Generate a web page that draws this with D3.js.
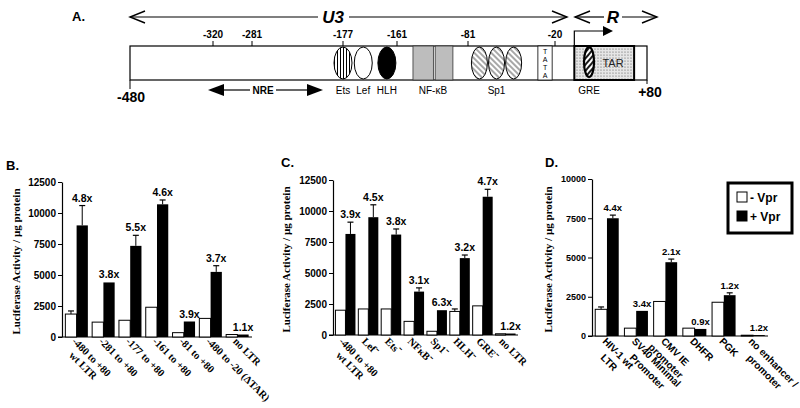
<!DOCTYPE html>
<html>
<head>
<meta charset="utf-8">
<script src="https://cdn.jsdelivr.net/npm/d3@7"></script>
<style>
  body { margin: 0; background: #fff; }
  svg { display: block; }
  .sans { font-family: Arial, "Liberation Sans", Helvetica, sans-serif; }
  .serif { font-family: "Times New Roman", "Liberation Serif", serif; }
</style>
</head>
<body>
<svg id="chart" width="800" height="408"></svg>
<script>
// Panel A – schematic of the LTR (positions in nt)
const ltrTicks = [-320, -281, -177, -161, -81, -20];
const ltrSites = [
  { name: "Ets", pos: -177, kind: "ets" },
  { name: "Lef", pos: -171, kind: "lef" },
  { name: "HLH", pos: -164, kind: "hlh" }
];
const nfkbBoxes = [[-143, -120], [-118, -98]];
const sp1Sites = [-73, -61, -49];
const tataBox = [-32, -22];
const tarRegion = [1, 66];
const grePos = 17;

// Panel B – deletion mutants
const bCats  = ["-480 to +80|wt LTR", "-281 to +80", "-177 to +80", "-161 to +80", "-81 to +80", "-480 to -20 (\u0394TAR)", "no LTR"];
const bMinus = [1850, 1200, 1350, 2400, 350, 1500, 200];
const bMinusErr = [250, 0, 0, 0, 0, 0, 0];
const bPlus  = [9000, 4400, 7350, 10700, 1250, 5250, 200];
const bPlusErr = [1600, 0, 850, 350, 0, 500, 0];
const bFold  = ["4.8x", "3.8x", "5.5x", "4.6x", "3.9x", "3.7x", "1.1x"];

// Panel C – site mutants
const cCats  = ["-480 to +80|wt LTR", "Lef\u207B", "Ets\u207B", "NF\u03BAB\u207B", "Sp1\u207B", "HLH\u207B", "GRE\u207B", "no LTR"];
const cMinus = [2000, 2100, 2100, 1100, 300, 1900, 2350, 100];
const cMinusErr = [0, 0, 0, 0, 0, 200, 0, 0];
const cPlus  = [8150, 9500, 8100, 3500, 2000, 6200, 11150, 120];
const cPlusErr = [950, 1000, 450, 300, 0, 250, 600, 0];
const cFold  = ["3.9x", "4.5x", "3.8x", "3.1x", "6.3x", "3.2x", "4.7x", "1.2x"];

// Panel D – heterologous promoters
const dCats  = ["HIV-1 wt|LTR", "SV40 Minimal|Promoter", "CMV IE|promoter", "DHFR", "PGK", "no enhancer /|promoter"];
const dMinus = [1700, 500, 2200, 500, 2150, 50];
const dMinusErr = [150, 0, 0, 0, 0, 0];
const dPlus  = [7500, 1600, 4700, 450, 2600, 60];
const dPlusErr = [200, 0, 200, 0, 150, 0];
const dFold  = ["4.4x", "3.4x", "2.1x", "0.9x", "1.2x", "1.2x"];

const ticksBC = [0, 2500, 5000, 7500, 10000, 12500];
const ticksD  = [0, 2500, 5000, 7500, 10000];
const series = ["- Vpr", "+ Vpr"];

const svg = d3.select("#chart");
const defs = svg.append("defs");

// fill patterns
const pv = defs.append("pattern").attr("id", "vstripe").attr("patternUnits", "userSpaceOnUse")
  .attr("width", 3).attr("height", 3);
pv.append("rect").attr("width", 3).attr("height", 3).attr("fill", "#fff");
pv.append("line").attr("x1", 1.5).attr("x2", 1.5).attr("y1", 0).attr("y2", 3).attr("stroke", "#000").attr("stroke-width", 1);

const ph = defs.append("pattern").attr("id", "hatch").attr("patternUnits", "userSpaceOnUse")
  .attr("width", 4).attr("height", 4).attr("patternTransform", "rotate(45)");
ph.append("rect").attr("width", 4).attr("height", 4).attr("fill", "#fff");
ph.append("line").attr("x1", 0).attr("x2", 4).attr("y1", 2).attr("y2", 2).attr("stroke", "#222").attr("stroke-width", 0.8);

const pg = defs.append("pattern").attr("id", "hatchBold").attr("patternUnits", "userSpaceOnUse")
  .attr("width", 4).attr("height", 4).attr("patternTransform", "rotate(-50)");
pg.append("rect").attr("width", 4).attr("height", 4).attr("fill", "#fff");
pg.append("line").attr("x1", 0).attr("x2", 4).attr("y1", 2).attr("y2", 2).attr("stroke", "#000").attr("stroke-width", 1.8);

const pd = defs.append("pattern").attr("id", "stipple").attr("patternUnits", "userSpaceOnUse")
  .attr("width", 3).attr("height", 3);
pd.append("rect").attr("width", 3).attr("height", 3).attr("fill", "#e6e6e6");
pd.append("circle").attr("cx", 1).attr("cy", 1).attr("r", 0.6).attr("fill", "#555");

// ---------- Panel A ----------
const a = svg.append("g").attr("class", "sans");
const xs = d3.scaleLinear()
  .domain([-480, -320, -281, -177, -161, -81, -20, 80])
  .range([130, 213, 252, 343, 397, 468, 555, 647]);
const boxTop = 46, boxBot = 80, boxMid = (boxTop + boxBot) / 2;

a.append("text").attr("x", 72).attr("y", 21).attr("font-weight", "bold").attr("font-size", 13).text("A.");

function openHead(g, x, y, dir) {
  g.append("path")
    .attr("d", `M${x + dir * 15},${y - 6} L${x},${y} L${x + dir * 15},${y + 6}`)
    .attr("fill", "none").attr("stroke", "#000").attr("stroke-width", 1.4);
}
// U3 arrow
a.append("line").attr("x1", xs(-480)).attr("x2", 318).attr("y1", 17).attr("y2", 17).attr("stroke", "#000").attr("stroke-width", 1.2);
a.append("line").attr("x1", 349).attr("x2", 567).attr("y1", 17).attr("y2", 17).attr("stroke", "#000").attr("stroke-width", 1.2);
openHead(a, xs(-480), 17, 1);
openHead(a, 567, 17, -1);
a.append("text").attr("x", 333).attr("y", 23).attr("text-anchor", "middle")
  .attr("font-weight", "bold").attr("font-style", "italic").attr("font-size", 17).text("U3");
// R arrow
a.append("line").attr("x1", 575).attr("x2", 604).attr("y1", 17).attr("y2", 17).attr("stroke", "#000").attr("stroke-width", 1.2);
a.append("line").attr("x1", 622).attr("x2", 657).attr("y1", 17).attr("y2", 17).attr("stroke", "#000").attr("stroke-width", 1.2);
openHead(a, 575, 17, 1);
openHead(a, 657, 17, -1);
a.append("text").attr("x", 613).attr("y", 23).attr("text-anchor", "middle")
  .attr("font-weight", "bold").attr("font-style", "italic").attr("font-size", 17).text("R");

// main box
a.append("rect").attr("x", xs(-480)).attr("y", boxTop).attr("width", xs(80) - xs(-480)).attr("height", boxBot - boxTop)
  .attr("fill", "#fff").attr("stroke", "#000").attr("stroke-width", 1.2);

// top ticks
a.selectAll(".ltick").data(ltrTicks).join("line")
  .attr("x1", d => xs(d)).attr("x2", d => xs(d)).attr("y1", 41).attr("y2", boxTop)
  .attr("stroke", "#000");
a.selectAll(".ltxt").data(ltrTicks).join("text")
  .attr("x", d => xs(d)).attr("y", 38).attr("text-anchor", "middle")
  .attr("font-weight", "bold").attr("font-size", 10).text(d => d);

// end labels
a.append("line").attr("x1", xs(-480)).attr("x2", xs(-480)).attr("y1", boxBot).attr("y2", 89).attr("stroke", "#000");
a.append("line").attr("x1", xs(80)).attr("x2", xs(80)).attr("y1", boxBot).attr("y2", 84).attr("stroke", "#000");
a.append("text").attr("x", xs(-480) + 1).attr("y", 102).attr("text-anchor", "middle").attr("font-weight", "bold").attr("font-size", 14).text("-480");
a.append("text").attr("x", xs(80) + 3).attr("y", 97).attr("text-anchor", "middle").attr("font-weight", "bold").attr("font-size", 14).text("+80");

// NF-kB boxes
a.selectAll(".nf").data(nfkbBoxes).join("rect")
  .attr("x", d => xs(d[0])).attr("width", d => xs(d[1]) - xs(d[0]))
  .attr("y", boxTop).attr("height", boxBot - boxTop)
  .attr("fill", "#bdbdbd").attr("stroke", "#333").attr("stroke-width", 0.8);

// TATA
a.append("rect").attr("x", xs(tataBox[0])).attr("width", xs(tataBox[1]) - xs(tataBox[0]))
  .attr("y", boxTop).attr("height", boxBot - boxTop).attr("fill", "#fff").attr("stroke", "#000").attr("stroke-width", 0.8);
a.selectAll(".tata").data(["T", "A", "T", "A"]).join("text")
  .attr("x", (xs(tataBox[0]) + xs(tataBox[1])) / 2).attr("y", (d, i) => 54 + i * 8)
  .attr("text-anchor", "middle").attr("font-size", 7).text(d => d);

// TAR region
a.append("rect").attr("x", xs(tarRegion[0])).attr("width", xs(tarRegion[1]) - xs(tarRegion[0]))
  .attr("y", boxTop).attr("height", boxBot - boxTop).attr("fill", "url(#stipple)").attr("stroke", "#000").attr("stroke-width", 2);
a.append("text").attr("x", 613).attr("y", 67).attr("text-anchor", "middle").attr("font-size", 11).attr("fill", "#222").text("TAR");
a.append("ellipse").attr("cx", xs(grePos)).attr("cy", boxMid - 1).attr("rx", 5).attr("ry", 15)
  .attr("fill", "url(#hatchBold)").attr("stroke", "#000").attr("stroke-width", 2.2);

// transcription start arrow
a.append("path").attr("d", `M${xs(tarRegion[0])},${boxTop} V31 H603`).attr("fill", "none").attr("stroke", "#000").attr("stroke-width", 1.2);
a.append("path").attr("d", "M603,26 L613,31 L603,36 Z").attr("fill", "#000");

// Ets / Lef / HLH
a.selectAll(".site").data(ltrSites).join("ellipse")
  .attr("cx", d => xs(d.pos)).attr("cy", boxMid).attr("rx", 9).attr("ry", 16)
  .attr("fill", d => d.kind === "ets" ? "url(#vstripe)" : d.kind === "hlh" ? "#000" : "#fff")
  .attr("stroke", "#000").attr("stroke-width", 1);
// Sp1
a.selectAll(".sp1").data(sp1Sites).join("ellipse")
  .attr("cx", d => xs(d)).attr("cy", boxMid).attr("rx", 8).attr("ry", 16)
  .attr("fill", "url(#hatch)").attr("stroke", "#000").attr("stroke-width", 1);

// site labels below
const siteLabels = ltrSites.map(d => ({ t: d.name, x: xs(d.pos) }))
  .concat([{ t: "NF-\u03BAB", x: (xs(nfkbBoxes[0][0]) + xs(nfkbBoxes[1][1])) / 2 },
           { t: "Sp1", x: xs(sp1Sites[1]) },
           { t: "GRE", x: xs(grePos) }]);
a.selectAll(".slab").data(siteLabels).join("text")
  .attr("x", d => d.x).attr("y", 94).attr("text-anchor", "middle").attr("font-size", 10).text(d => d.t);

// NRE arrow
a.append("line").attr("x1", 222).attr("x2", 250).attr("y1", 90).attr("y2", 90).attr("stroke", "#000").attr("stroke-width", 1.2);
a.append("line").attr("x1", 276).attr("x2", 308).attr("y1", 90).attr("y2", 90).attr("stroke", "#000").attr("stroke-width", 1.2);
a.append("path").attr("d", "M208,90 L224,84 L224,96 Z").attr("fill", "#000");
a.append("path").attr("d", "M323,90 L307,84 L307,96 Z").attr("fill", "#000");
a.append("text").attr("x", 263).attr("y", 94).attr("text-anchor", "middle").attr("font-weight", "bold").attr("font-size", 10).text("NRE");

// ---------- bar panels ----------
function panel(o) {
  const g = svg.append("g");
  const x = d3.scaleBand().domain(o.cats).range([o.x0, o.x1]).paddingInner(o.pi).paddingOuter(o.po);
  const xi = d3.scaleBand().domain(series).range([0, x.bandwidth()]);
  const y = d3.scaleLinear().domain([0, o.max]).range([o.yZero, o.yTop]);

  g.append("text").attr("class", "sans").attr("x", o.letterX).attr("y", o.letterY)
    .attr("font-weight", "bold").attr("font-size", 13).text(o.letter);

  const yAxis = g.append("g").attr("transform", `translate(${o.x0},0)`)
    .call(d3.axisLeft(y).tickValues(o.ticks).tickFormat(d3.format("d")).tickSize(4).tickPadding(2).tickSizeOuter(0));
  yAxis.select(".domain").attr("stroke-width", 1.2);
  yAxis.selectAll("text").attr("font-family", o.tickFont).attr("font-weight", "bold").attr("font-size", o.tickSize);

  g.append("line").attr("x1", o.x0 - 4).attr("x2", o.x1).attr("y1", o.yZero).attr("y2", o.yZero)
    .attr("stroke", "#000").attr("stroke-width", 1.2);

  g.append("text").attr("class", "serif")
    .attr("transform", `translate(${o.yLabX},${(o.yZero + o.yTop) / 2 + 2}) rotate(-90)`)
    .attr("text-anchor", "middle").attr("font-weight", "bold").attr("font-size", 11)
    .text("Luciferase Activity / \u00B5g protein");

  const rows = o.cats.map((c, i) => ({ c, minus: o.minus[i], plus: o.plus[i], me: o.minusErr[i], pe: o.plusErr[i], fold: o.fold[i] }));
  const grp = g.selectAll(".grp").data(rows).join("g")
    .attr("transform", d => `translate(${x(d.c)},0)`);

  grp.append("rect").attr("x", xi(series[0])).attr("width", xi.bandwidth())
    .attr("y", d => y(d.minus)).attr("height", d => o.yZero - y(d.minus))
    .attr("fill", "#fff").attr("stroke", "#000").attr("stroke-width", 1);
  grp.append("rect").attr("x", xi(series[1])).attr("width", xi.bandwidth())
    .attr("y", d => y(d.plus)).attr("height", d => o.yZero - y(d.plus))
    .attr("fill", "#000");

  function errBar(sel, key, eKey, s) {
    const cx = xi(s) + xi.bandwidth() / 2;
    const e = sel.filter(d => d[eKey] > 0);
    e.append("line").attr("x1", cx).attr("x2", cx)
      .attr("y1", d => y(d[key])).attr("y2", d => y(d[key] + d[eKey])).attr("stroke", "#000");
    e.append("line").attr("x1", cx - 3).attr("x2", cx + 3)
      .attr("y1", d => y(d[key] + d[eKey])).attr("y2", d => y(d[key] + d[eKey])).attr("stroke", "#000").attr("stroke-width", 1.2);
  }
  errBar(grp, "minus", "me", series[0]);
  errBar(grp, "plus", "pe", series[1]);

  grp.append("text").attr("class", "sans")
    .attr("x", xi(series[1]) + xi.bandwidth() / 2)
    .attr("y", d => y(d.plus + d.pe) - 4)
    .attr("text-anchor", "middle").attr("font-weight", "bold").attr("font-size", o.foldSize)
    .text(d => d.fold);

  // rotated category labels
  const lab = g.selectAll(".lab").data(o.cats).join("text")
    .attr("font-family", o.labFont).attr("font-weight", "bold").attr("font-size", o.labSize)
    .attr("transform", d => `translate(${x(d) + x.bandwidth() / 2 + o.labDx},${o.labY}) rotate(45)`);
  lab.each(function (d) {
    const t = d3.select(this);
    const lines = d.split("|");
    const first = t.append("tspan").attr("x", 0).attr("y", 0).text(lines[0]);
    if (lines.length > 1) {
      const w1 = first.node().getComputedTextLength();
      const second = t.append("tspan").attr("y", o.labLH).text(lines[1]);
      const w2 = second.node().getComputedTextLength();
      second.attr("x", (w1 - w2) / 2);
    }
  });
}

const serifFont = '"Times New Roman", "Liberation Serif", serif';
const sansFont = 'Arial, "Liberation Sans", Helvetica, sans-serif';

panel({ letter: "B.", letterX: 6, letterY: 170, cats: bCats, minus: bMinus, minusErr: bMinusErr, plus: bPlus, plusErr: bPlusErr, fold: bFold,
  x0: 62, x1: 252, pi: 0.16, po: 0.125, yZero: 337, yTop: 182, max: 12500, ticks: ticksBC, yLabX: 20, tickSize: 10,
  tickFont: sansFont, foldSize: 10.5, labFont: serifFont, labSize: 10.5, labDx: -5, labY: 342, labLH: 12 });

panel({ letter: "C.", letterX: 281, letterY: 167, cats: cCats, minus: cMinus, minusErr: cMinusErr, plus: cPlus, plusErr: cPlusErr, fold: cFold,
  x0: 333, x1: 518, pi: 0.125, po: 0.107, yZero: 335, yTop: 180, max: 12500, ticks: ticksBC, yLabX: 290, tickSize: 10,
  tickFont: sansFont, foldSize: 10.5, labFont: serifFont, labSize: 10.5, labDx: -7, labY: 342, labLH: 12 });

panel({ letter: "D.", letterX: 545, letterY: 167, cats: dCats, minus: dMinus, minusErr: dMinusErr, plus: dPlus, plusErr: dPlusErr, fold: dFold,
  x0: 592, x1: 768, pi: 0.195, po: 0.11, yZero: 336, yTop: 179, max: 10000, ticks: ticksD, yLabX: 552, tickSize: 9,
  tickFont: sansFont, foldSize: 9.5, labFont: sansFont, labSize: 10, labDx: -5, labY: 342, labLH: 13 });

// legend
const lg = svg.append("g").attr("class", "sans");
lg.append("rect").attr("x", 728).attr("y", 183).attr("width", 64).attr("height", 50)
  .attr("fill", "#fff").attr("stroke", "#000").attr("stroke-width", 3);
const li = lg.selectAll(".li").data(series).join("g")
  .attr("transform", (d, i) => `translate(737,${192 + i * 19})`);
li.append("rect").attr("width", 10).attr("height", 10)
  .attr("fill", (d, i) => i ? "#000" : "#fff").attr("stroke", "#000").attr("stroke-width", 1);
li.append("text").attr("x", 13).attr("y", 9.5).attr("font-weight", "bold").attr("font-size", 12).text(d => d);
</script>
</body>
</html>
